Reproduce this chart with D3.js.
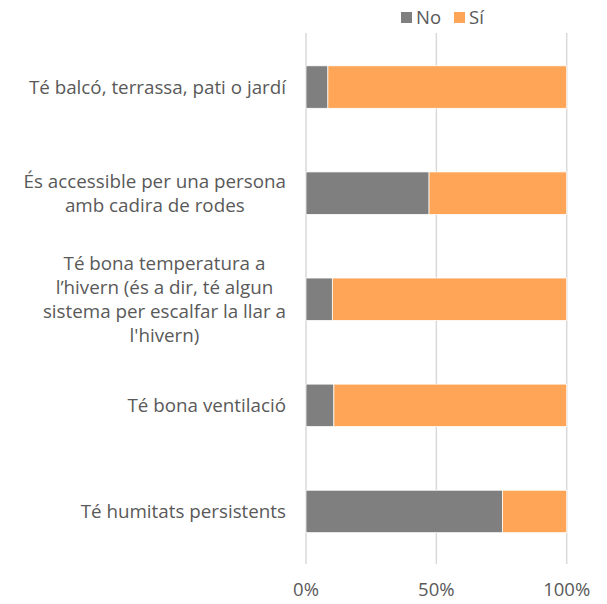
<!DOCTYPE html>
<html><head><meta charset="utf-8">
<script src="https://cdn.jsdelivr.net/npm/d3@7"></script>
<style>body{margin:0;background:#fff}svg{display:block}</style>
</head><body>
<script>
const categories = [
  ["Té balcó, terrassa, pati o jardí"],
  ["És accessible per una persona", "amb cadira de rodes"],
  ["Té bona temperatura a", "l’hivern (és a dir, té algun", "sistema per escalfar la llar a", "l'hivern)"],
  ["Té bona ventilació"],
  ["Té humitats persistents"]
];
const noValues = [0.084, 0.472, 0.101, 0.107, 0.754];
const siValues = noValues.map(v => 1 - v);
const seriesNames = ["No", "Sí"];
const tickValues = [0, 0.5, 1];

const W = 607, H = 604;
const FONT = "'Open Sans', sans-serif";
const textColor = "#595959";
const colors = {"No": "#7f7f7f", "Sí": "#ffa557"};

const svg = d3.select("body").append("svg").attr("width", W).attr("height", H);
const x = d3.scaleLinear().domain([0, 1]).range([306, 566.7]);
const y = d3.scaleBand().domain(d3.range(categories.length)).range([34, 564.5]).paddingInner(0.6).paddingOuter(0.3);

// gridlines
svg.append("g").selectAll("line").data(tickValues).join("line")
  .attr("x1", d => x(d)).attr("x2", d => x(d))
  .attr("y1", 33).attr("y2", 564)
  .attr("stroke", "#d9d9d9").attr("stroke-width", 1.5);

// stacked bars
const rows = categories.map((c, i) => ({i, No: noValues[i], "Sí": siValues[i]}));
const stack = d3.stack().keys(seriesNames)(rows);
svg.append("g").selectAll("g").data(stack).join("g")
  .attr("fill", d => colors[d.key])
  .selectAll("rect").data(d => d).join("rect")
  .attr("x", d => x(d[0])).attr("width", d => x(d[1]) - x(d[0]))
  .attr("y", d => y(d.data.i)).attr("height", y.bandwidth())
  .attr("stroke", "#fff").attr("stroke-width", 0.75);

// category labels: block right-aligned, lines centered within block
const lineH = 24;
const labelRight = 286;
const lab = svg.append("g").attr("font-family", FONT).attr("font-size", 18.8).attr("fill", textColor).attr("text-anchor", "middle");
categories.forEach((lines, i) => {
  const cy = y(i) + y.bandwidth() / 2;
  const t = lab.append("text");
  const spans = lines.map((ln, k) =>
    t.append("tspan").attr("y", cy + (k - (lines.length - 1) / 2) * lineH).attr("dy", "0.35em").text(ln));
  const maxW = d3.max(spans, s => s.node().getComputedTextLength());
  spans.forEach(s => s.attr("x", labelRight - maxW / 2));
});

// x axis tick labels
svg.append("g").selectAll("text").data(tickValues).join("text")
  .attr("x", d => x(d)).attr("y", 590).attr("dy", "0.35em")
  .attr("text-anchor", "middle").attr("font-family", FONT).attr("font-size", 18.5).attr("fill", textColor)
  .text(d3.format(".0%"));

// legend
const leg = svg.append("g").attr("font-family", FONT).attr("font-size", 18.5).attr("fill", textColor);
const legX = [401, 454];
seriesNames.forEach((s, k) => {
  leg.append("rect").attr("x", legX[k]).attr("y", 12).attr("width", 11).attr("height", 11).attr("fill", colors[s]);
  leg.append("text").attr("x", legX[k] + 15).attr("y", 17.5).attr("dy", "0.35em").text(s);
});
</script>
</body></html>
